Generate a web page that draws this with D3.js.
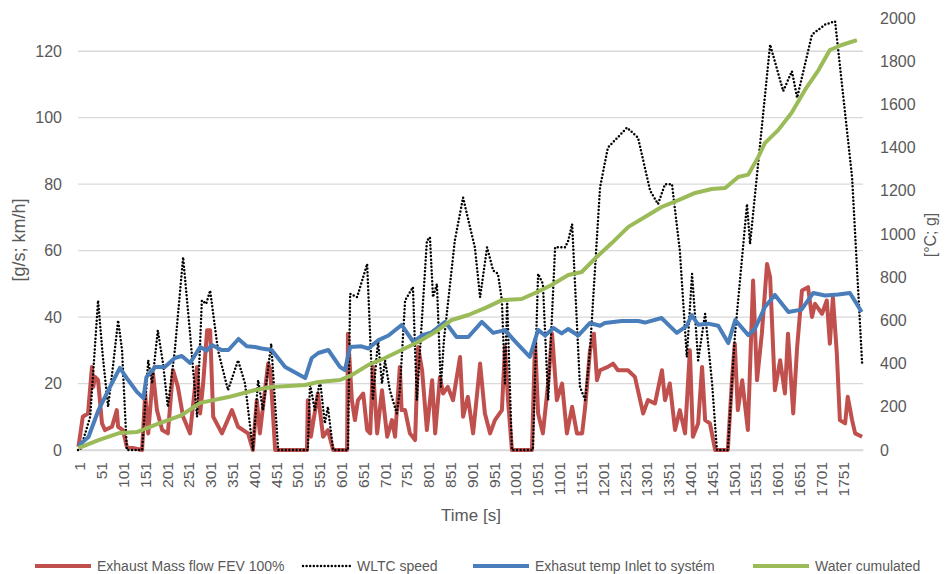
<!DOCTYPE html>
<html>
<head>
<meta charset="utf-8">
<script src="https://cdn.jsdelivr.net/npm/d3@7"></script>
<style>
  body { margin: 0; background: #fff; }
  svg { font-family: "Liberation Sans", Arial, sans-serif; }
  .tick text { fill: #595959; }
</style>
</head>
<body>
<svg id="chart" width="945" height="574"></svg>
<script>
// time ticks on the category axis
const timeTicks = [1, 51, 101, 151, 201, 251, 301, 351, 401, 451, 501, 551, 601, 651, 701, 751, 801, 851, 901, 951,
  1001, 1051, 1101, 1151, 1201, 1251, 1301, 1351, 1401, 1451, 1501, 1551, 1601, 1651, 1701, 1751];
const leftTicks = [0, 20, 40, 60, 80, 100, 120];
const rightTicks = [0, 200, 400, 600, 800, 1000, 1200, 1400, 1600, 1800, 2000];

// [time s, g/s]
const exhaustFlow = [[1,1],[11,10],[23,11],[32,25],[35,19],[39,22],[46,21],[55,8],[62,6],[78,7],[89,12],[92,7],[103,6],[112,1],
  [147,0],[154,17],[161,5],[172,23],[181,12],[193,6],[206,5],[218,24],[229,19],[241,10],[257,5],[273,25],[280,11],[287,20],
  [296,36],[303,36],[310,10],[330,5],[353,12],[367,7],[390,5],[401,0],[410,15],[417,5],[436,26],[441,24],[452,0],[525,0],
  [527,15],[534,4],[550,17],[562,4],[573,6],[585,0],[617,0],[619,35],[628,15],[635,9],[642,15],[654,17],[663,6],[670,5],
  [676,25],[686,5],[697,18],[709,4],[720,9],[727,4],[738,25],[742,12],[750,12],[761,5],[773,3],[780,31],[789,24],[800,6],
  [812,21],[819,5],[830,22],[837,17],[848,19],[860,15],[876,28],[883,10],[894,16],[906,5],[922,26],[933,11],[945,5],[956,9],
  [972,12],[979,31],[986,15],[995,0],[1041,0],[1048,33],[1055,11],[1066,5],[1078,20],[1087,35],[1098,15],[1110,20],[1121,5],
  [1133,13],[1144,5],[1156,5],[1163,13],[1174,30],[1183,35],[1190,21],[1197,24],[1215,25],[1227,26],[1238,24],[1261,24],
  [1277,22],[1289,15],[1296,11],[1307,15],[1323,14],[1339,24],[1346,15],[1357,20],[1369,6],[1380,12],[1392,5],[1403,30],
  [1410,4],[1422,8],[1431,25],[1438,9],[1449,8],[1461,0],[1490,0],[1500,22],[1506,32],[1513,12],[1523,21],[1536,6],[1548,51],
  [1557,21],[1568,35],[1580,56],[1587,52],[1598,18],[1610,27],[1621,17],[1628,35],[1640,11],[1649,31],[1660,48],[1674,49],
  [1683,40],[1690,44],[1706,41],[1717,45],[1724,32],[1731,46],[1740,29],[1747,9],[1759,8],[1765,16],[1775,9],[1782,5],[1798,4]];

// [time s, km/h]
const wltcSpeed = [[0,0],[5,0],[28,10],[46,45],[57,28],[69,13],[80,25],[92,39],[101,30],[112,0],[147,0],[161,27],[170,20],
  [183,36],[195,26],[206,13],[222,30],[241,58],[257,35],[273,10],[284,45],[294,44],[303,48],[321,30],[344,18],[367,27],
  [383,20],[401,0],[413,21],[424,12],[443,32],[459,0],[527,0],[532,20],[543,12],[555,21],[566,8],[573,13],[585,0],[619,0],
  [624,47],[640,46],[663,56],[676,15],[688,33],[697,20],[704,27],[715,18],[731,11],[738,18],[750,45],[768,49],[777,15],
  [800,63],[807,64],[814,46],[823,50],[832,19],[839,33],[864,63],[883,76],[899,67],[910,61],[922,46],[938,61],[952,54],
  [963,53],[972,45],[979,20],[984,45],[995,0],[1043,0],[1055,53],[1066,50],[1078,15],[1094,61],[1117,61],[1124,63],
  [1133,68],[1151,19],[1163,15],[1174,30],[1197,79],[1215,91],[1259,97],[1284,94],[1312,78],[1330,74],[1346,80],[1362,80],
  [1380,60],[1396,28],[1408,53],[1422,27],[1438,41],[1454,20],[1465,0],[1490,0],[1506,34],[1534,74],[1541,62],[1587,122],
  [1617,108],[1637,114],[1649,106],[1683,125],[1713,128],[1736,129],[1775,82],[1798,26]];

// [time s, °C]
const exhaustTemp = [[1,20],[24,60],[47,185],[70,278],[96,380],[115,324],[135,269],[150,241],[157,338],[177,384],[199,384],
  [222,426],[238,435],[257,403],[280,477],[295,460],[307,486],[329,463],[345,463],[368,514],[387,480],[406,477],[421,470],
  [444,463],[475,384],[521,333],[536,426],[551,449],[574,463],[601,384],[612,370],[624,477],[650,480],[666,470],[689,509],
  [712,530],[742,579],[769,500],[788,530],[811,545],[842,593],[868,523],[895,523],[926,593],[952,542],[979,555],[1006,495],
  [1036,431],[1055,556],[1071,530],[1090,565],[1109,540],[1124,560],[1147,530],[1174,588],[1197,575],[1208,588],[1247,597],
  [1285,597],[1300,590],[1338,611],[1373,542],[1396,575],[1407,625],[1422,580],[1445,585],[1468,575],[1491,495],[1507,602],
  [1537,532],[1552,560],[1575,662],[1598,718],[1629,639],[1659,650],[1686,727],[1713,715],[1743,720],[1770,727],[1797,639]];

// [time s, g]
const waterCum = [[1,9],[47,46],[96,79],[135,83],[177,116],[238,162],[280,218],[345,245],[406,278],[444,292],[521,301],
  [551,315],[601,324],[628,347],[666,394],[704,426],[742,463],[780,500],[819,546],[857,602],[895,625],[933,657],[972,694],
  [1017,699],[1048,727],[1086,764],[1124,810],[1155,824],[1190,895],[1224,958],[1262,1033],[1300,1079],[1338,1125],
  [1377,1157],[1415,1190],[1453,1208],[1484,1213],[1514,1264],[1537,1275],[1560,1357],[1575,1421],[1606,1482],[1636,1560],
  [1667,1667],[1698,1759],[1724,1852],[1751,1875],[1786,1898]];

const seriesNames = ["Exhaust Mass flow FEV 100%", "WLTC speed", "Exhasut temp Inlet to systém", "Water cumulated"];
const seriesColors = ["#c0504d", "#000000", "#4a7ebb", "#9bbb59"];

let svg = d3.select("#chart")
let plotLeft = 78, plotRight = 863, plotTop = 18, plotBottom = 450

let x = d3.scaleLinear().domain([0, 1800]).range([plotLeft, plotRight])
let yL = d3.scaleLinear().domain([0, 130]).range([plotBottom, plotTop])
let yR = d3.scaleLinear().domain([0, 2000]).range([plotBottom, plotTop])

// gridlines
svg.append("g")
    .selectAll("line")
    .data(leftTicks)
    .enter()
    .append("line")
    .attr("x1", plotLeft).attr("x2", plotRight)
    .attr("y1", d => yL(d)).attr("y2", d => yL(d))
    .attr("stroke", "#d9d9d9")
    .attr("stroke-width", 1.3)

// left axis
let axL = svg.append("g")
    .attr("transform", "translate(" + plotLeft + ",0)")
    .call(d3.axisLeft(yL).tickValues(leftTicks).tickSize(0).tickPadding(16))
axL.select(".domain").remove()
axL.selectAll("text").style("font-size", "16px")

// right axis
let axR = svg.append("g")
    .attr("transform", "translate(" + plotRight + ",0)")
    .call(d3.axisRight(yR).tickValues(rightTicks).tickSize(0).tickPadding(17).tickFormat(d3.format("d")))
axR.select(".domain").remove()
axR.selectAll("text").style("font-size", "16px")

// bottom axis
let axB = svg.append("g")
    .attr("transform", "translate(0," + plotBottom + ")")
    .call(d3.axisBottom(x).tickValues(timeTicks).tickSize(0).tickFormat(d => d))
axB.select(".domain").attr("stroke", "#d9d9d9").attr("stroke-width", 1.3)
axB.selectAll("text")
    .style("font-size", "15.5px")
    .attr("text-anchor", "end")
    .attr("transform", "rotate(-90)")
    .attr("x", -12)
    .attr("y", 1)
    .attr("dy", "0.35em")

// axis titles
svg.append("text")
    .attr("x", 471).attr("y", 521)
    .attr("text-anchor", "middle")
    .style("font-size", "17px")
    .attr("fill", "#595959")
    .text("Time [s]")

svg.append("text")
    .attr("transform", "translate(25,240) rotate(-90)")
    .attr("text-anchor", "middle")
    .style("font-size", "18px")
    .attr("fill", "#595959")
    .text("[g/s; km/h]")

svg.append("text")
    .attr("transform", "translate(936,235) rotate(-90)")
    .attr("text-anchor", "middle")
    .style("font-size", "16px")
    .attr("fill", "#595959")
    .text("[°C; g]")

// lines
let lineL = d3.line().x(d => x(d[0])).y(d => yL(d[1]))
let lineR = d3.line().x(d => x(d[0])).y(d => yR(d[1]))

svg.append("path").datum(exhaustFlow)
    .attr("d", lineL).attr("fill", "none")
    .attr("stroke", seriesColors[0]).attr("stroke-width", 4).attr("stroke-linejoin", "round")

svg.append("path").datum(wltcSpeed)
    .attr("d", lineL).attr("fill", "none")
    .attr("stroke", seriesColors[1]).attr("stroke-width", 2.5)
    .attr("stroke-dasharray", "0,3.6").attr("stroke-linecap", "round")

svg.append("path").datum(exhaustTemp)
    .attr("d", lineR).attr("fill", "none")
    .attr("stroke", seriesColors[2]).attr("stroke-width", 4).attr("stroke-linejoin", "round")

svg.append("path").datum(waterCum)
    .attr("d", lineR).attr("fill", "none")
    .attr("stroke", seriesColors[3]).attr("stroke-width", 4).attr("stroke-linejoin", "round")

// legend
let legendTextX = [97, 357, 535, 815]
let legend = svg.append("g").attr("transform", "translate(0,566)")
seriesNames.forEach(function (name, i) {
    let g = legend.append("g").attr("transform", "translate(" + legendTextX[i] + ",0)")
    let sw = g.append("line").attr("x1", i == 1 ? -54 : -62).attr("x2", -6).attr("y1", 0).attr("y2", 0)
        .attr("stroke", seriesColors[i])
    if (i == 1) {
        sw.attr("stroke-width", 2.5).attr("stroke-dasharray", "0,3.6").attr("stroke-linecap", "round")
    } else {
        sw.attr("stroke-width", 4)
    }
    g.append("text").attr("x", 0).attr("y", 0).attr("dy", "0.35em")
        .style("font-size", "14px").attr("fill", "#595959")
        .text(name)
})
</script>
</body>
</html>
